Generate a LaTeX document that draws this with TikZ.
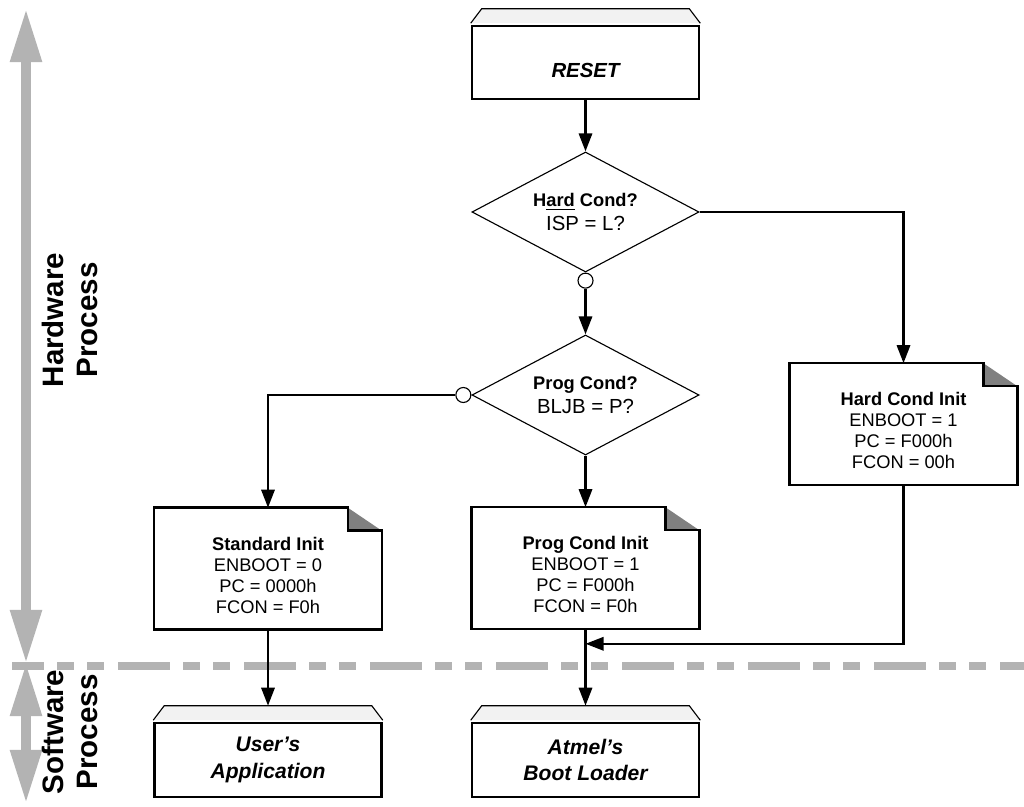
\documentclass[tikz,border=0pt]{standalone}
\usepackage{fontspec}
\setmainfont{Liberation Sans}
\usetikzlibrary{arrows.meta,shapes.geometric,calc,positioning}
\definecolor{bandgray}{HTML}{B3B3B3}
\definecolor{foldgray}{HTML}{808080}
\definecolor{lidgray}{HTML}{F2F2F2}
\tikzset{
flow/.style={-{Triangle[length=0.45cm,width=0.33cm]},line width=1.8pt},
procbox/.style={draw,line width=1.8pt,minimum width=5.675cm,inner sep=0pt,align=center,font=\bfseries\itshape\fontsize{15}{19}\selectfont},
decision/.style={diamond,draw,line width=0.8pt,minimum width=5.675cm,minimum height=3.0cm,aspect=1.9,inner sep=0pt,align=center,font=\fontsize{13}{16.5}\selectfont},
junction/.style={circle,draw,line width=0.8pt,minimum size=0.375cm,inner sep=0pt},
initbox/.style={rectangle,minimum width=5.675cm,minimum height=3.025cm,inner sep=0pt,align=center,font=\fontsize{13}{15}\selectfont},
boxline/.style={line width=1.8pt,line join=miter},
lid/.style={fill=lidgray,draw,line width=0.8pt},
band/.style={bandgray,line width=0.225cm,{Triangle[length=1.33cm,width=0.75cm]}-{Triangle[length=1.33cm,width=0.75cm]}},
sepline/.style={bandgray,line width=0.2cm,dash pattern=on 1.3cm off 0.325cm on 0.425cm off 0.325cm on 0.425cm off 0.35cm,dash phase=0.5cm},
sidelabel/.style={rotate=90,align=center,font=\bfseries\fontsize{21}{24}\selectfont}
}
\newcommand{\topgap}[1]{\rule{0pt}{#1}}

\begin{document}
\begin{tikzpicture}[x=0.025cm,y=-0.025cm]
	\useasboundingbox (0,0) rectangle (1024,807);
	% hardware / software split
	\coordinate (sep west) at (12,666);
	\coordinate (sep east) at (1024,666);
	\draw[sepline] (sep west) -- (sep east);
	\coordinate (hw top) at (26,9);
	\coordinate (hw bot) at (26,663);
	\coordinate (sw bot) at (26,803);
	\draw[band] (hw top) -- (hw bot);
	\draw[band] (hw bot) -- (sw bot);
	\node[sidelabel] (hwlabel) at (70,320) {Hardware\\Process};
	\node[sidelabel] (swlabel) at (70,732) {Software\\Process};

	% reset and tests
	\node[procbox,minimum height=1.825cm,font=\bfseries\itshape\fontsize{14.5}{17}\selectfont] (reset) at (585.5,62.5) {\topgap{22pt}RESET};
	\node[decision] (hardcond) at (585.5,212) {\textbf{H\underline{ard} Cond?}\\{\fontsize{14.5}{16.5}\selectfont ISP = L?}};
	\node[junction,below=0pt of hardcond] (hcjoin) {};
	\node[decision] (progcond) at (585.5,395) {\textbf{Prog Cond?}\\{\fontsize{14.5}{16.5}\selectfont BLJB = P?}};
	\node[junction,left=0pt of progcond] (pcjoin) {};

	% init boxes
	\node[initbox] (stdinit) at (268,568.5) {\topgap{19pt}\textbf{Standard Init}\\ENBOOT = 0\\PC = 0000h\\FCON = F0h};
	\node[initbox] (proginit) at (585.5,568) {\topgap{19pt}\textbf{Prog Cond Init}\\ENBOOT = 1\\PC = F000h\\FCON = F0h};
	\node[initbox] (hardinit) at (903.5,424) {\topgap{19pt}\textbf{Hard Cond Init}\\ENBOOT = 1\\PC = F000h\\FCON = 00h};
	\foreach \n in {stdinit,proginit,hardinit}{
		\fill[foldgray] ($(\n.north east)+(-34,0)$) -- ($(\n.north east)+(0,23)$) -- ($(\n.north east)+(-34,23)$) -- cycle;
		\draw[boxline] ($(\n.north east)+(-34,0)$) -- (\n.north west) -- (\n.south west) -- (\n.south east) -- ($(\n.north east)+(0,23)$) -- ($(\n.north east)+(-34,23)$) -- cycle;
	}

	% software entries
	\node[procbox,minimum height=1.85cm] (userapp) at (268,760) {User’s\\Application};
	\node[procbox,minimum height=1.85cm] (bootldr) at (585.5,760) {Atmel’s\\Boot Loader};
	\foreach \n in {reset,userapp,bootldr}{
		\filldraw[lid] ($(\n.north west)+(0,-1.5)$) -- ($(\n.north west)+(11,-16)$) -- ($(\n.north east)+(-11,-16)$) -- ($(\n.north east)+(0,-1.5)$);
	}
	\coordinate (userlid) at ($(userapp.north)+(0,-16)$);
	\coordinate (bootlid) at ($(bootldr.north)+(0,-16)$);
	\coordinate (merge) at ($(proginit.south)+(0,15)$);

	% arrows
	\draw[flow] (reset) -- (hardcond);
	\draw[flow] (hcjoin) -- (progcond);
	\draw[flow] (hardcond.east) -| (hardinit.north);
	\draw[flow] (pcjoin.west) -| (stdinit.north);
	\draw[flow] (progcond) -- (proginit);
	\draw[flow] (hardinit.south) |- (merge);
	\draw[flow] (stdinit) -- (userlid);
	\draw[flow] (proginit) -- (bootlid);
\end{tikzpicture}
\end{document}
